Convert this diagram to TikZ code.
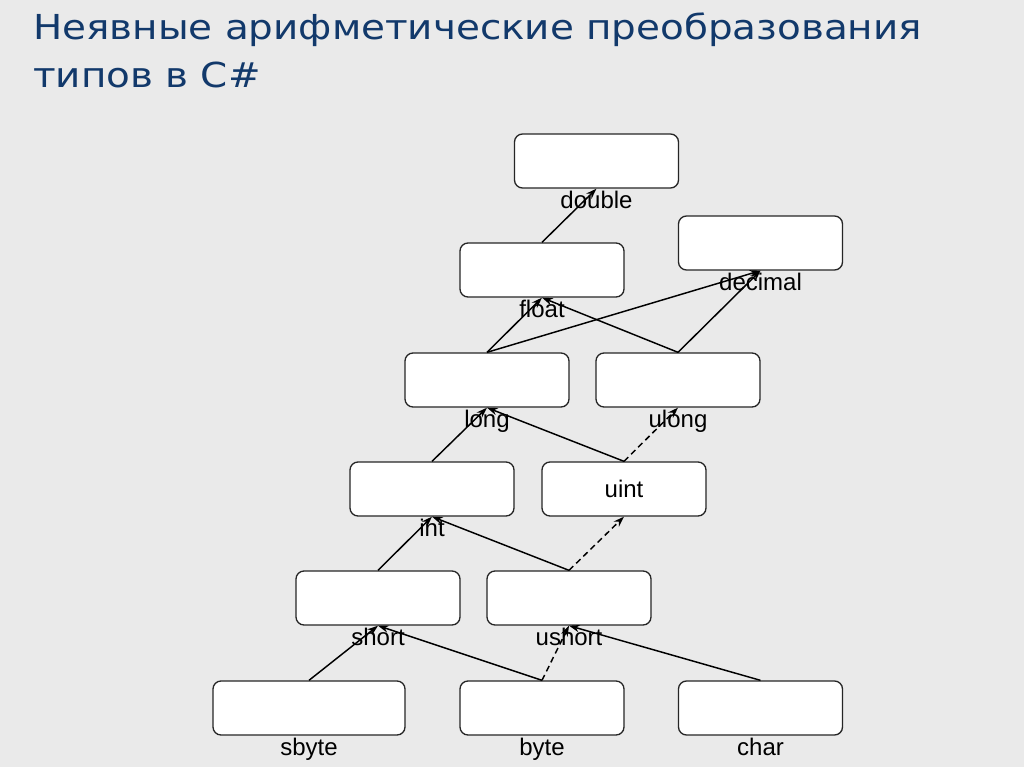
\documentclass[tikz,border=0pt]{standalone}
\usepackage{fontspec}
\setmainfont{Liberation Sans}
\newfontfamily\ttlfont{DejaVu Sans}
\usetikzlibrary{positioning,arrows.meta}
\definecolor{bgray}{RGB}{234,234,234}
\definecolor{ttlblue}{RGB}{18,57,107}
\begin{document}
\begin{tikzpicture}[x=0.75pt,y=-0.75pt,>={Stealth[length=8pt,width=5.5pt]},line join=round,
	tbox/.style={draw=black!85,fill=white,rounded corners=6pt,line width=1pt,minimum width=123pt,minimum height=40.5pt,inner sep=0pt},
	tname/.style={inner sep=0pt,text height=12.75pt,text depth=3.5pt,font=\fontsize{18pt}{20pt}\selectfont},
	ttl/.style={anchor=base west,inner sep=0pt,text=ttlblue,font=\ttlfont\fontsize{25.8pt}{30pt}\selectfont},
	conv/.style={->,line width=1.1pt},
	dconv/.style={conv,dash pattern=on 4.5pt off 3pt}]
	\fill[bgray] (0,0) rectangle (1024,767);
	\useasboundingbox (0,0) rectangle (1024,767);
	% title
	\node[ttl] (ttl1) at (33,40) {\scalebox{1.13}[1]{Неявные арифметические преобразования}};
	\node[ttl] (ttl2) at (33,88) {\scalebox{1.13}[1]{типов в C\#}};
	% type boxes
	\node[tbox] (dbl) at (596.5,161) {};
	\node[tbox] (flt) at (542,270) {};
	\node[tbox] (dec) at (760.5,243) {};
	\node[tbox] (lng) at (487,380) {};
	\node[tbox] (ulng) at (678,380) {};
	\node[tbox] (int) at (432,489) {};
	\node[tbox,font=\fontsize{18pt}{20pt}\selectfont] (uint) at (624,489) {uint};
	\node[tbox] (shrt) at (378,598) {};
	\node[tbox] (ushrt) at (569,598) {};
	\node[tbox,minimum width=144pt] (sbyte) at (309,708) {};
	\node[tbox] (byte) at (542,708) {};
	\node[tbox] (char) at (760.5,708) {};
	% names under the boxes
	\foreach \n/\t in {dbl/double,flt/float,dec/decimal,lng/long,ulng/ulong,int/int,shrt/short,ushrt/ushort,sbyte/sbyte,byte/byte,char/char}
	\node[tname,below=2.25pt of \n] (\n-t) {\t};
	% conversions
	\foreach \a/\b in {flt/dbl,lng/flt,lng/dec,ulng/flt,ulng/dec,int/lng,uint/lng,shrt/int,ushrt/int,sbyte/shrt,byte/shrt,char/ushrt}
	\draw[conv] (\a.north)--(\b.south);
	\foreach \a/\b in {uint/ulng,ushrt/uint,byte/ushrt}
	\draw[dconv] (\a.north)--(\b.south);
\end{tikzpicture}
\end{document}
